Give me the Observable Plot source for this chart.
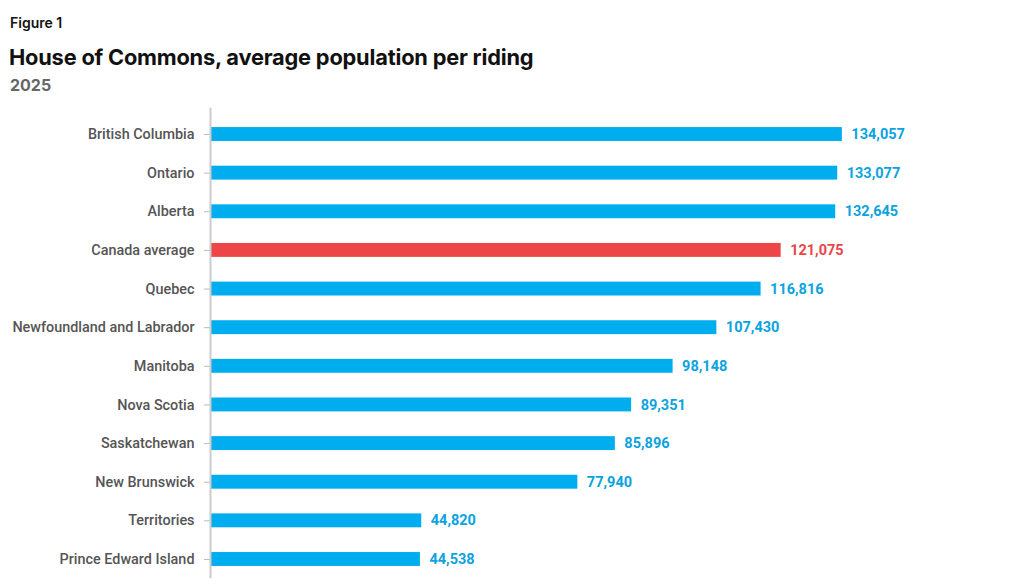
<!DOCTYPE html>
<html>
<head>
<meta charset="utf-8">
<script src="https://cdn.jsdelivr.net/npm/d3@7"></script>
<script src="https://cdn.jsdelivr.net/npm/@observablehq/plot@0.6"></script>
<style>
  body { margin: 0; background: #fff; width: 1024px; height: 587px; overflow: hidden; }
  #header { position: relative; height: 100px; }
  #fig { position: absolute; left: 10px; top: 14px; font-family: Inter, sans-serif; font-weight: 600; font-size: 14px; color: #111; }
  #title { position: absolute; left: 9px; top: 44px; font-family: Inter, sans-serif; font-weight: 700; font-size: 21.8px; color: #111; letter-spacing: -0.2px; }
  #sub { position: absolute; left: 10px; top: 75px; font-family: Inter, sans-serif; font-weight: 700; font-size: 16px; color: #666; }
  #chart svg { display: block; }
</style>
</head>
<body>
<div id="header">
  <div id="fig">Figure 1</div>
  <div id="title">House of Commons, average population per riding</div>
  <div id="sub">2025</div>
</div>
<div id="chart"></div>
<script>
const regions = ["British Columbia", "Ontario", "Alberta", "Canada average", "Quebec", "Newfoundland and Labrador", "Manitoba", "Nova Scotia", "Saskatchewan", "New Brunswick", "Territories", "Prince Edward Island"];
const population = [134057, 133077, 132645, 121075, 116816, 107430, 98148, 89351, 85896, 77940, 44820, 44538];
const highlight = "Canada average";

const data = regions.map((r, i) => ({region: r, value: population[i], hl: r === highlight}));
const blue = "#00AEEF", red = "#EE4548";
const blueText = "#0AA3DF", redText = "#E8464A";

const chart = Plot.plot({
  width: 1024,
  height: 487,
  marginTop: 14.7,
  marginBottom: 8.7,
  marginLeft: 210,
  marginRight: 107,
  x: {domain: [0, 150000], axis: null},
  y: {domain: regions, paddingInner: 0.64, paddingOuter: 0.32, round: false, label: null},
  style: {fontFamily: "Roboto, sans-serif", fontSize: "14px", color: "#555"},
  marks: [
    Plot.axisY({tickSize: 6, tickPadding: 10, stroke: "#bbb", fill: "#555", fontSize: 14.4, fontWeight: 500, label: null}),
    Plot.barX(data, {y: "region", x: "value", fill: d => d.hl ? red : blue}),
    Plot.text(data, {y: "region", x: "value", text: d => d3.format(",")(d.value), textAnchor: "start", dx: 9, fill: d => d.hl ? redText : blueText, fontWeight: "bold", fontSize: 14.5}),
    Plot.ruleX([0], {stroke: "#ccc", strokeWidth: 2, insetTop: -7})
  ]
});
document.getElementById("chart").appendChild(chart);
</script>
</body>
</html>
